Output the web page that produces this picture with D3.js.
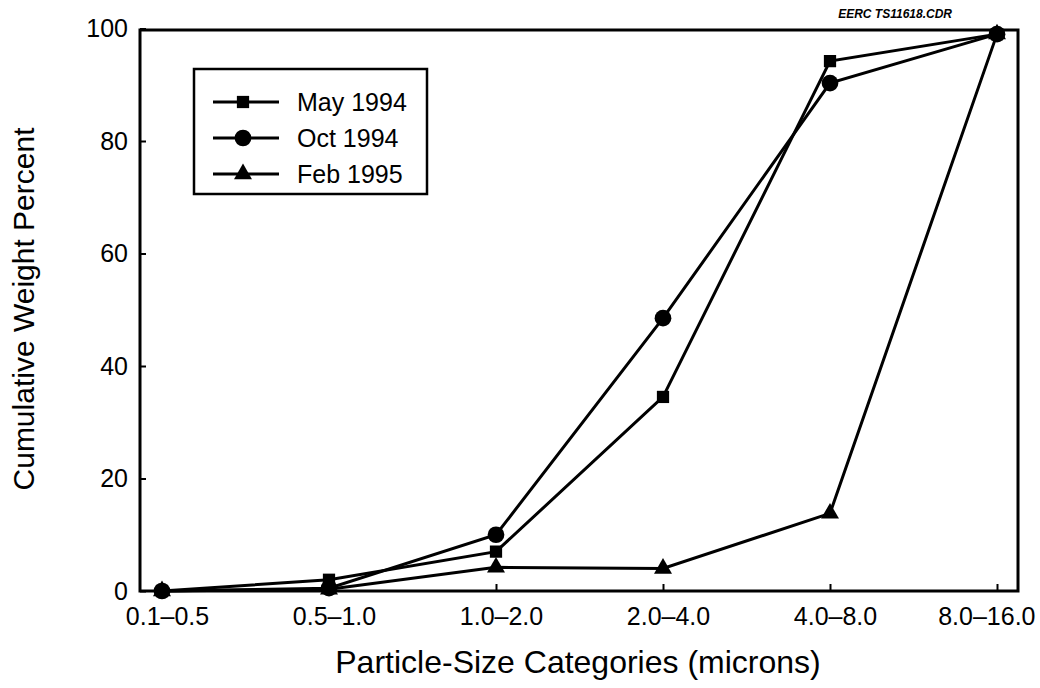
<!DOCTYPE html>
<html>
<head>
<meta charset="utf-8">
<script src="https://cdn.jsdelivr.net/npm/d3@7"></script>
<style>
  body { margin: 0; background: #fff; }
  svg text { font-family: "Liberation Sans", Arial, sans-serif; fill: #000; }
</style>
</head>
<body>
<svg id="chart"></svg>
<script>
const categories = ['0.1–0.5', '0.5–1.0', '1.0–2.0', '2.0–4.0', '4.0–8.0', '8.0–16.0'];
const may1994 = [0, 2, 7, 34.5, 94.2, 99];
const oct1994 = [0, 0.5, 10, 48.5, 90.3, 99];
const feb1995 = [0, 0.3, 4.2, 4, 13.8, 99];
const seriesNames = ['May 1994', 'Oct 1994', 'Feb 1995'];
const yTicks = [0, 20, 40, 60, 80, 100];

const series = [
  { name: seriesNames[0], values: may1994, symbol: d3.symbolSquare, size: 150 },
  { name: seriesNames[1], values: oct1994, symbol: d3.symbolCircle, size: 220 },
  { name: seriesNames[2], values: feb1995, symbol: d3.symbolTriangle, size: 140 }
];

const W = 1040, H = 688;
const frame = { left: 140, right: 1018, top: 30, bottom: 591 };

const svg = d3.select('#chart').attr('width', W).attr('height', H);

const xScale = d3.scalePoint()
  .domain(categories)
  .range([162, 997]);

const yScale = d3.scaleLinear()
  .domain([0, 100])
  .range([frame.bottom, frame.top - 1.5]);

// frame
svg.append('rect')
  .attr('x', frame.left).attr('y', frame.top)
  .attr('width', frame.right - frame.left)
  .attr('height', frame.bottom - frame.top)
  .attr('fill', 'none').attr('stroke', '#000').attr('stroke-width', 3);

// y axis, ticks pointing inward
const yAxis = svg.append('g')
  .attr('transform', `translate(${frame.left},0)`)
  .call(d3.axisRight(yScale).tickValues(yTicks).tickSize(6).tickFormat(d3.format('d')));
yAxis.select('.domain').remove();
yAxis.selectAll('line').attr('stroke', '#000').attr('stroke-width', 2);
yAxis.selectAll('text')
  .attr('x', -12).attr('text-anchor', 'end')
  .style('font-size', '25px');

// x axis, ticks pointing inward
const xAxis = svg.append('g')
  .attr('transform', `translate(0,${frame.bottom})`)
  .call(d3.axisTop(xScale).tickSize(7));
xAxis.select('.domain').remove();
xAxis.selectAll('line').attr('stroke', '#000').attr('stroke-width', 2);
xAxis.selectAll('text')
  .attr('y', 34).attr('dy', 0)
  .attr('x', 5)
  .style('font-size', '25px');
// last label sits flush with the right edge, like the original
xAxis.selectAll('text')
  .filter(d => d === categories[categories.length - 1])
  .attr('text-anchor', 'end')
  .attr('x', 38);

// axis titles
svg.append('text')
  .attr('x', 578).attr('y', 673)
  .attr('text-anchor', 'middle')
  .style('font-size', '32px')
  .text('Particle-Size Categories (microns)');

svg.append('text')
  .attr('transform', 'translate(34,309) rotate(-90)')
  .attr('text-anchor', 'middle')
  .style('font-size', '30px')
  .text('Cumulative Weight Percent');

svg.append('text')
  .attr('x', 952).attr('y', 18)
  .attr('text-anchor', 'end')
  .style('font-size', '12px')
  .style('font-style', 'italic')
  .style('font-weight', 'bold')
  .text('EERC TS11618.CDR');

// series
const line = d3.line()
  .x((d, i) => xScale(categories[i]))
  .y(d => yScale(d));

series.forEach(s => {
  svg.append('path')
    .datum(s.values)
    .attr('d', line)
    .attr('fill', 'none')
    .attr('stroke', '#000')
    .attr('stroke-width', 3);

  svg.selectAll(null)
    .data(s.values)
    .enter()
    .append('path')
    .attr('d', d3.symbol().type(s.symbol).size(s.size))
    .attr('transform', (d, i) => `translate(${xScale(categories[i])},${yScale(d)})`)
    .attr('fill', '#000');
});

// legend
const legend = svg.append('g');
legend.append('rect')
  .attr('x', 194).attr('y', 69)
  .attr('width', 233).attr('height', 125)
  .attr('fill', '#fff').attr('stroke', '#000').attr('stroke-width', 2.5);

series.forEach((s, i) => {
  const ly = 102 + i * 36;
  legend.append('line')
    .attr('x1', 213).attr('x2', 279)
    .attr('y1', ly).attr('y2', ly)
    .attr('stroke', '#000').attr('stroke-width', 3);
  legend.append('path')
    .attr('d', d3.symbol().type(s.symbol).size(s.size))
    .attr('transform', `translate(243,${ly})`)
    .attr('fill', '#000');
  legend.append('text')
    .attr('x', 297).attr('y', ly + 9)
    .style('font-size', '25px')
    .text(s.name);
});
</script>
</body>
</html>
